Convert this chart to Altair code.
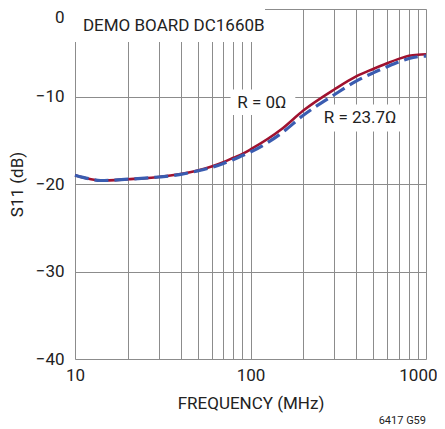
import altair as alt
import pandas as pd

# --- data ---
freq_r0 = [10, 12, 14, 20, 30, 40, 50, 60, 70, 80, 90, 100, 150, 200, 300, 400, 500, 600, 700, 800, 900, 1000]
s11_r0 = [-19.0, -19.4, -19.6, -19.45, -19.2, -18.85, -18.45, -18.0, -17.5, -17.0, -16.55, -16.05,
          -13.75, -11.6, -9.2, -7.7, -6.85, -6.2, -5.7, -5.35, -5.22, -5.18]
freq_r23 = [10, 12, 14, 20, 30, 40, 50, 60, 70, 80, 90, 100, 150, 200, 300, 400, 500, 600, 700, 800, 900, 1000]
s11_r23 = [-19.0, -19.4, -19.6, -19.45, -19.2, -18.9, -18.5, -18.1, -17.65, -17.2, -16.75, -16.35,
           -14.2, -12.15, -9.8, -8.25, -7.3, -6.6, -6.05, -5.65, -5.45, -5.38]
series_names = ["R = 0Ω", "R = 23.7Ω"]

x_grid = [10, 20, 30, 40, 50, 60, 70, 80, 90, 100, 200, 300, 400, 500, 600, 700, 800, 900, 1000]
y_ticks = [-40, -30, -20, -10, 0]

FONT = "Roboto"
FS = 17
RED = "#a0122f"
BLUE = "#3a5cb0"

df = pd.concat([
    pd.DataFrame({"f": freq_r0, "s": s11_r0, "series": series_names[0]}),
    pd.DataFrame({"f": freq_r23, "s": s11_r23, "series": series_names[1]}),
])

xscale = alt.Scale(type="log", domain=[10, 1000], nice=False)
yscale = alt.Scale(domain=[-40, 0], nice=False)

xaxis = alt.Axis(
    values=x_grid, ticks=False, domain=False, grid=True, gridColor="#8c8c8c", gridWidth=1,
    labelExpr="(datum.value == 10 || datum.value == 100 || datum.value == 1000) ? '' + datum.value : ''",
    labelAlign=alt.ExprRef(expr="datum.value == 1000 ? 'right' : 'center'"),
    labelOffset=alt.ExprRef(expr="datum.value == 1000 ? 11 : 0"),
    labelFont=FONT, labelFontSize=FS, labelColor="#222", labelPadding=8, labelFlush=False,
    labelOverlap=False,
    title="FREQUENCY (MHz)", titleFont=FONT, titleFontSize=FS, titleFontWeight="normal",
    titleColor="#222", titlePadding=12)
yaxis = alt.Axis(
    values=y_ticks, ticks=False, domain=False, grid=True, gridColor="#8c8c8c", gridWidth=1,
    labelExpr="datum.value < 0 ? '\u2212' + abs(datum.value) : datum.label",
    labelBaseline=alt.ExprRef(expr="datum.value == 0 ? 'top' : 'middle'"),
    labelFont=FONT, labelFontSize=FS, labelColor="#222", labelPadding=11,
    title="S11 (dB)", titleFont=FONT, titleFontSize=FS, titleFontWeight="normal",
    titleColor="#222", titlePadding=9)

# annotation backgrounds (white boxes interrupting grid)
boxes = pd.DataFrame({
    "x1": [10, 77, 243], "x2": [121, 180, 730],
    "y1": [0, -9.2, -10.9], "y2": [-3.76, -12.1, -14.0],
})
rects = alt.Chart(boxes).mark_rect(color="white").encode(
    x=alt.X("x1:Q", scale=xscale, axis=xaxis), x2="x2:Q",
    y=alt.Y("y1:Q", scale=yscale, axis=yaxis), y2="y2:Q")

labels = pd.DataFrame({
    "x": [11.1, 116, 421], "y": [-1.9, -10.7, -12.5],
    "t": ["DEMO BOARD DC1660B", series_names[0], series_names[1]],
})
txt_left = alt.Chart(labels.iloc[:1]).mark_text(align="left", baseline="middle", font=FONT,
                                                 fontSize=FS, color="#222").encode(
    x=alt.X("x:Q", scale=xscale), y=alt.Y("y:Q", scale=yscale), text="t:N")
txt_center = alt.Chart(labels.iloc[1:]).mark_text(align="center", baseline="middle", font=FONT,
                                                   fontSize=FS, color="#222").encode(
    x=alt.X("x:Q", scale=xscale), y=alt.Y("y:Q", scale=yscale), text="t:N")

line_red = alt.Chart(df[df.series == series_names[0]]).mark_line(
    color=RED, strokeWidth=2.6, interpolate="monotone").encode(
    x=alt.X("f:Q", scale=xscale), y=alt.Y("s:Q", scale=yscale))
line_blue = alt.Chart(df[df.series == series_names[1]]).mark_line(
    color=BLUE, strokeWidth=3.2, strokeDash=[14, 6], interpolate="monotone").encode(
    x=alt.X("f:Q", scale=xscale), y=alt.Y("s:Q", scale=yscale))

footer = alt.Chart(pd.DataFrame({"t": ["6417 G59"]})).mark_text(
    align="right", baseline="middle", font=FONT, fontSize=11, color="#222").encode(
    x=alt.value(351), y=alt.value(412), text="t:N")

chart = alt.layer(rects, txt_left, txt_center, line_red, line_blue, footer).properties(
    width=351, height=350,
    autosize=alt.AutoSizeParams(type="none"),
    padding={"left": 67, "top": 1, "right": 11, "bottom": 70},
).configure_view(stroke="#111", strokeWidth=2).configure(background="white")

chart.save("out.html", embed_options={"renderer": "svg", "actions": False})
